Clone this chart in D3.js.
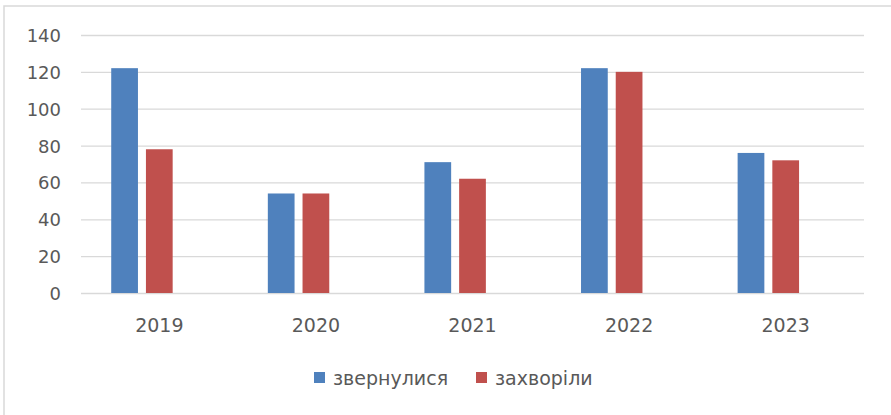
<!DOCTYPE html>
<html><head><meta charset="utf-8">
<script src="https://cdn.jsdelivr.net/npm/d3@7"></script>
<style>html,body{margin:0;padding:0;background:#fff;}svg{display:block;}</style>
</head><body>
<script>
const categories = ["2019", "2020", "2021", "2022", "2023"];
const seriesNames = ["звернулися", "захворіли"];
const applied = [122, 54, 71, 122, 76];
const fellIll = [78, 54, 62, 120, 72];
const yTicks = [0, 20, 40, 60, 80, 100, 120, 140];
const colors = ["#4F81BD", "#C0504D"];

(function () {
const W = 891, H = 415;
const svg = d3.select("body").append("svg").attr("width", W).attr("height", H);

// chart frame
svg.append("rect").attr("x", 4).attr("y", 6).attr("width", W + 10).attr("height", H + 10)
  .attr("fill", "#fff").attr("stroke", "#d9d9d9").attr("stroke-width", 1.5);

const pLeft = 81, pRight = 864, pTop = 35, pBottom = 293;
const y = d3.scaleLinear().domain([0, 140]).range([pBottom, pTop]);
const x0 = d3.scaleBand().domain(categories).range([pLeft, pRight]).paddingInner(0.386).paddingOuter(0.193);
// Excel reserves three slots per category (the third is empty)
const x1 = d3.scaleBand().domain([0, 1, 2]).range([0, x0.bandwidth()]).paddingInner(0.23).paddingOuter(0);

// gridlines
const yAxis = d3.axisLeft(y).tickValues(yTicks).tickSize(-(pRight - pLeft)).tickPadding(20);
const gy = svg.append("g").attr("transform", `translate(${pLeft},0)`).call(yAxis);
gy.select(".domain").remove();
gy.selectAll(".tick line").attr("stroke", "#d9d9d9").attr("stroke-width", 1.3);
gy.selectAll(".tick text").attr("fill", "#595959").attr("font-family", "DejaVu Sans")
  .attr("font-size", 18).attr("dy", "0.36em");

// bars
const series = [applied, fellIll];
series.forEach((vals, si) => {
  svg.append("g").selectAll("rect").data(categories).join("rect")
    .attr("x", c => x0(c) + x1(si))
    .attr("width", x1.bandwidth())
    .attr("y", (c, i) => y(vals[i]))
    .attr("height", (c, i) => y(0) - y(vals[i]))
    .attr("fill", colors[si]);
});

// x axis labels
const xAxis = d3.axisBottom(x0).tickSize(0).tickPadding(0);
const gx = svg.append("g").attr("transform", `translate(0,${pBottom})`).call(xAxis);
gx.select(".domain").remove();
gx.selectAll(".tick text").attr("fill", "#595959").attr("font-family", "DejaVu Sans")
  .attr("font-size", 19).attr("y", 39).attr("dy", 0);

// legend
const legendX = [314, 476];
const lg = svg.append("g");
seriesNames.forEach((name, i) => {
  lg.append("rect").attr("x", legendX[i]).attr("y", 372).attr("width", 11).attr("height", 11).attr("fill", colors[i]);
  lg.append("text").attr("x", legendX[i] + 19).attr("y", 385).text(name)
    .attr("fill", "#595959").attr("font-family", "DejaVu Sans").attr("font-size", 19);
});
})();
</script>
</body></html>
